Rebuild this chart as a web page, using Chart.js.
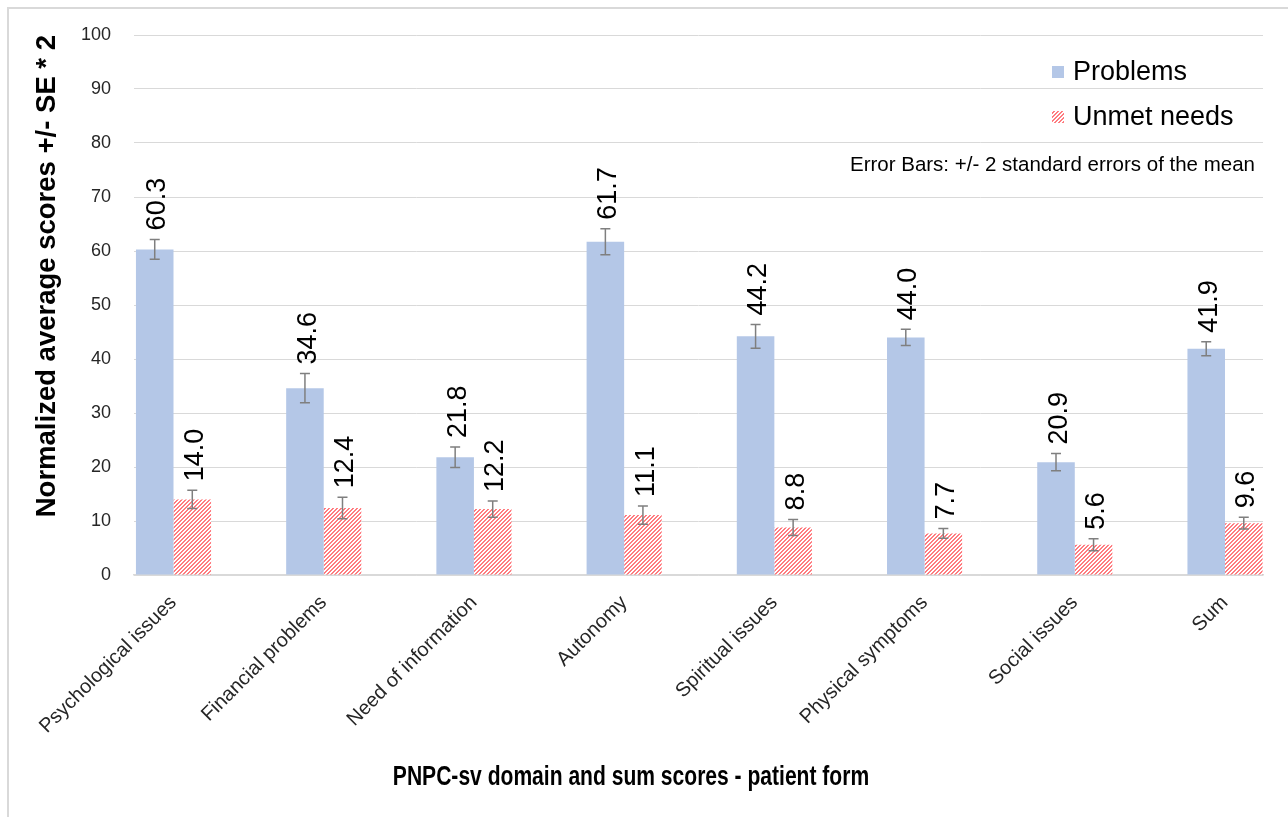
<!DOCTYPE html>
<html>
<head>
<meta charset="utf-8">
<script src="https://cdn.jsdelivr.net/npm/chart.js@4.4.1/dist/chart.umd.min.js"></script>
<style>
  html, body { margin: 0; padding: 0; background: #fff; }
  #wrap { position: relative; width: 1288px; height: 817px; overflow: hidden; }
  #frame { position: absolute; left: 7px; top: 7px; width: 1300px; height: 830px; border-left: 2px solid #d9d9d9; border-top: 2px solid #d9d9d9; }
  canvas { position: absolute; left: 0; top: 0; }
</style>
</head>
<body>
<div id="wrap"><div id="frame"></div><canvas id="c" width="1288" height="817"></canvas></div>
<script>
// PNPC-sv patient form: problems vs unmet needs, +/- 2 SE error bars
const CATS = ['Psychological issues', 'Financial problems', 'Need of information', 'Autonomy',
  'Spiritual issues', 'Physical symptoms', 'Social issues', 'Sum'];
const PROBLEMS = [60.3, 34.6, 21.8, 61.7, 44.2, 44.0, 20.9, 41.9];
const UNMET = [14.0, 12.4, 12.2, 11.1, 8.8, 7.7, 5.6, 9.6];
// half length of each error bar (2 SE)
const PROBLEMS_ERR = [1.85, 2.7, 1.9, 2.4, 2.2, 1.5, 1.6, 1.3];
const UNMET_ERR = [1.7, 2.0, 1.5, 1.7, 1.5, 0.9, 1.1, 1.1];
const SERIES = ['Problems', 'Unmet needs'];
const X_TITLE = 'PNPC-sv domain and sum scores - patient form';

const FONT = '"Liberation Sans", Arial, sans-serif';
Chart.defaults.font.family = FONT;

function makeHatch() {
  const c = document.createElement('canvas');
  c.width = 4; c.height = 4;
  const g = c.getContext('2d');
  g.fillStyle = '#fff';
  g.fillRect(0, 0, 4, 4);
  g.fillStyle = '#ff7c80';
  for (let x = 0; x < 4; x++) {
    for (let y = 0; y < 4; y++) {
      const k = (x + y) % 4;
      if (k === 0 || k === 1) g.fillRect(x, y, 1, 1);
    }
  }
  return g.createPattern(c, 'repeat');
}

const overlay = {
  id: 'overlay',
  afterDatasetsDraw(chart) {
    const { ctx, chartArea, scales: { y } } = chart;
    chart.data.datasets.forEach((ds, di) => {
      const meta = chart.getDatasetMeta(di);
      meta.data.forEach((bar, i) => {
        const v = ds.data[i].y, e = ds.err[i];
        const yTop = y.getPixelForValue(v + e), yBot = y.getPixelForValue(v - e);
        ctx.save();
        ctx.strokeStyle = '#7f7f7f';
        ctx.lineWidth = 1.5;
        ctx.beginPath();
        ctx.moveTo(bar.x, yTop); ctx.lineTo(bar.x, yBot);
        ctx.moveTo(bar.x - 5, yTop); ctx.lineTo(bar.x + 5, yTop);
        ctx.moveTo(bar.x - 5, yBot); ctx.lineTo(bar.x + 5, yBot);
        ctx.stroke();
        // value label, rotated, just above the error bar
        const fs = 27;
        ctx.translate(bar.x + 1, yTop - 9);
        ctx.rotate(-Math.PI / 2);
        ctx.font = fs + 'px ' + FONT;
        ctx.fillStyle = '#000';
        ctx.textAlign = 'left';
        ctx.textBaseline = 'alphabetic';
        ctx.fillText(v.toFixed(1), 0, fs * 0.358);
        ctx.restore();
      });
    });

    // legend (sits inside the plot, over the gridlines)
    ctx.save();
    ctx.font = '27px ' + FONT;
    ctx.textBaseline = 'middle';
    ctx.textAlign = 'left';
    const lx = chartArea.right - 211;
    chart.data.datasets.forEach((ds, di) => {
      const cy = chartArea.top + 37 + di * 45;
      ctx.fillStyle = ds.backgroundColor;
      ctx.fillRect(lx, cy - 6, 12, 12);
      ctx.fillStyle = '#000';
      ctx.fillText(ds.label, lx + 21, cy + 1);
    });
    ctx.font = '20.5px ' + FONT;
    ctx.textAlign = 'right';
    ctx.fillText('Error Bars: +/- 2 standard errors of the mean', chartArea.right - 8, chartArea.top + 130);
    ctx.restore();

    // x axis title: bold, squeezed to a narrow face
    ctx.save();
    ctx.translate(chart.width / 2 - 13, chart.height - 32);
    ctx.scale(0.78, 1);
    ctx.font = 'bold 27px ' + FONT;
    ctx.fillStyle = '#000';
    ctx.textAlign = 'center';
    ctx.textBaseline = 'alphabetic';
    ctx.fillText(X_TITLE, 0, 0);
    ctx.restore();
  }
};

const hatch = makeHatch();

new Chart(document.getElementById('c'), {
  type: 'bar',
  data: {
    datasets: [
      { label: SERIES[0], data: PROBLEMS.map((v, i) => ({ x: i, y: v })), err: PROBLEMS_ERR,
        backgroundColor: '#b4c7e7', categoryPercentage: 0.5, barPercentage: 1 },
      { label: SERIES[1], data: UNMET.map((v, i) => ({ x: i, y: v })), err: UNMET_ERR,
        backgroundColor: hatch, categoryPercentage: 0.5, barPercentage: 1 },
    ],
  },
  options: {
    responsive: false, animation: false,
    layout: { padding: { left: 0, right: 25, top: 35, bottom: 0 } },
    plugins: {
      legend: { display: false },
      tooltip: { enabled: false },
    },
    scales: {
      x: {
        type: 'linear', min: -0.263, max: 7.253, offset: false,
        grid: { display: false, drawTicks: false },
        border: { color: '#d9d9d9', width: 1.5 },
        ticks: {
          stepSize: 1, includeBounds: false, autoSkip: false, minRotation: 45, maxRotation: 45, padding: 16,
          color: '#262626', font: { size: 20 },
          callback: (v) => (Number.isInteger(v) ? CATS[v] : ''),
        },
        afterFit: (s) => { s.height = 242; },
      },
      y: {
        min: 0, max: 100,
        grid: { color: '#d9d9d9', lineWidth: 1, drawTicks: false },
        border: { display: false },
        ticks: { stepSize: 10, padding: 23, color: '#262626', font: { size: 18 } },
        title: {
          display: true, align: 'end', text: 'Normalized average scores +/- SE * 2',
          color: '#000', font: { size: 27.5, weight: 'bold' }, padding: { top: 31, bottom: 0 },
        },
        afterFit: (s) => { s.width = 134; },
      },
    },
  },
  plugins: [overlay],
});
</script>
</body>
</html>
